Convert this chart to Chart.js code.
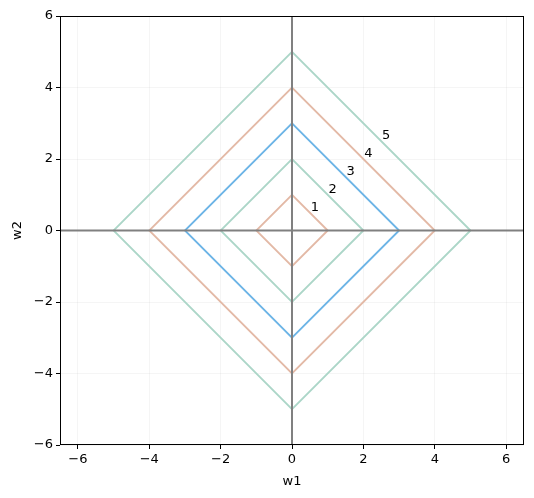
<!DOCTYPE html>
<html>
<head>
<meta charset="utf-8">
<script src="https://cdn.jsdelivr.net/npm/chart.js@4"></script>
<style>
  body { margin: 0; background: #fff; }
  canvas { display: block; }
</style>
</head>
<body>
<canvas id="c" width="534" height="498"></canvas>
<script>
// contour levels of |w1| + |w2|
const levels = [1, 2, 3, 4, 5];
const levelColors = ["#e3b9a6", "#acd6c8", "#6cb4e6", "#e3b9a6", "#acd6c8"];
// where each level label sits (w1 = w2)
const labelPos = [0.64, 1.14, 1.64, 2.14, 2.64];
const xTicks = [-6, -4, -2, 0, 2, 4, 6];
const yTicks = [-6, -4, -2, 0, 2, 4, 6];

const FONT = "DejaVu Sans";

const datasets = levels.map((l, i) => ({
  data: [{x: l, y: 0}, {x: 0, y: l}, {x: -l, y: 0}, {x: 0, y: -l}, {x: l, y: 0}],
  borderColor: levelColors[i],
  borderWidth: 1.8,
  showLine: true,
  pointRadius: 0,
  fill: false
}));

const minus = v => String(v).replace("-", "\u2212");

const extras = {
  id: "extras",
  afterDatasetsDraw(chart) {
    const {ctx, chartArea: a, scales: {x, y}} = chart;
    ctx.save();
    // zero lines
    ctx.strokeStyle = "#808080";
    ctx.lineWidth = 2;
    ctx.beginPath();
    ctx.moveTo(x.getPixelForValue(0), a.top);
    ctx.lineTo(x.getPixelForValue(0), a.bottom);
    ctx.moveTo(a.left, y.getPixelForValue(0));
    ctx.lineTo(a.right, y.getPixelForValue(0));
    ctx.stroke();
    // level labels
    ctx.fillStyle = "#000";
    ctx.font = "13px '" + FONT + "'";
    ctx.textAlign = "center";
    ctx.textBaseline = "middle";
    levels.forEach((l, i) => {
      ctx.fillText(String(l), x.getPixelForValue(labelPos[i]), y.getPixelForValue(labelPos[i]));
    });
    // frame
    ctx.strokeStyle = "#000";
    ctx.lineWidth = 1;
    ctx.strokeRect(a.left + 0.5, a.top + 0.5, a.right - a.left - 1, a.bottom - a.top - 1);
    ctx.restore();
  }
};

new Chart(document.getElementById("c"), {
  type: "scatter",
  data: { datasets },
  options: {
    responsive: false,
    animation: false,
    layout: { padding: { top: 16, right: 10, left: 0, bottom: 0 } },
    plugins: { legend: { display: false }, tooltip: { enabled: false } },
    scales: {
      x: {
        type: "linear",
        min: -6.5, max: 6.5,
        afterBuildTicks: s => { s.ticks = xTicks.map(v => ({value: v})); },
        afterFit: s => { s.height = 53; },
        grid: { color: "rgba(0,0,0,0.04)", tickColor: "#000", tickLength: 4 },
        border: { display: false },
        ticks: { color: "#000", font: { family: FONT, size: 13 }, padding: 3, callback: minus },
        title: { display: true, text: "w1", color: "#000", font: { family: FONT, size: 13 }, padding: { top: 0, bottom: 9 } }
      },
      y: {
        type: "linear",
        min: -6, max: 6,
        afterBuildTicks: s => { s.ticks = yTicks.map(v => ({value: v})); },
        afterFit: s => { s.width = 60; },
        grid: { color: "rgba(0,0,0,0.04)", tickColor: "#000", tickLength: 4 },
        border: { display: false },
        ticks: { color: "#000", font: { family: FONT, size: 13 }, padding: 3, callback: minus },
        title: { display: true, text: "w2", color: "#000", font: { family: FONT, size: 13 }, padding: { top: 10, bottom: 0 } }
      }
    }
  },
  plugins: [extras]
});
</script>
</body>
</html>
